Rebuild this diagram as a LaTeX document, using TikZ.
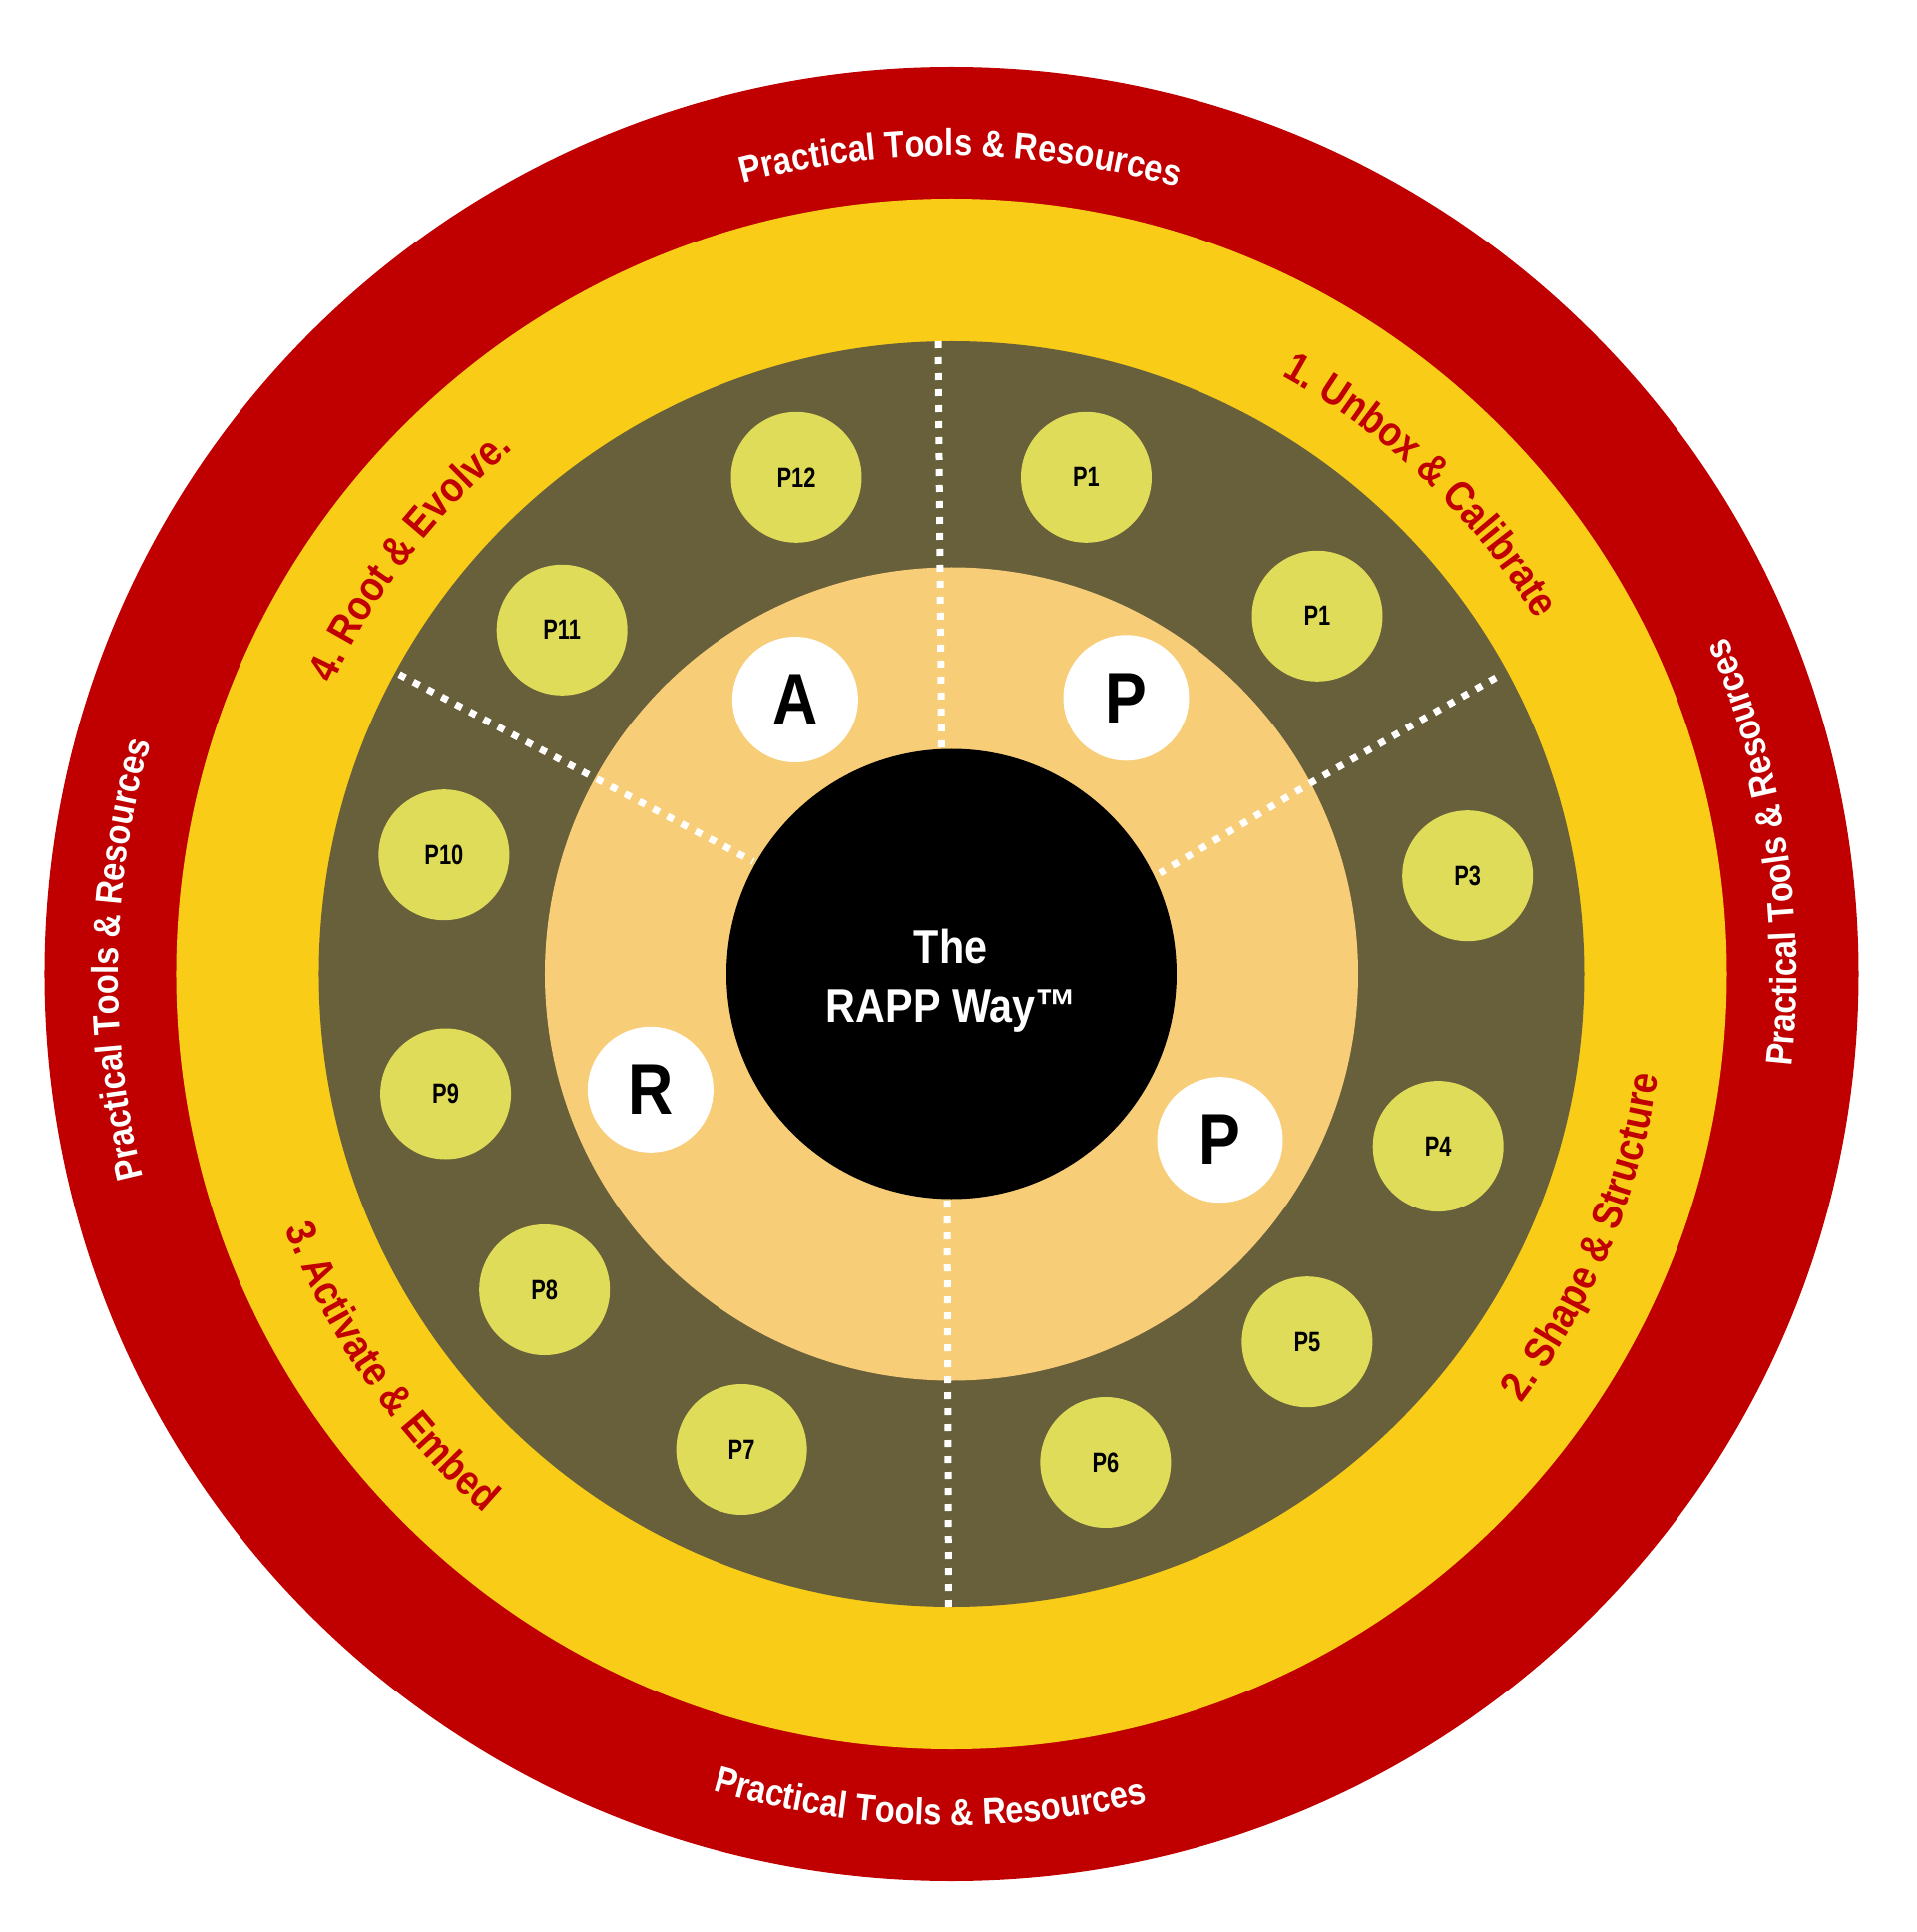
\documentclass[tikz,border=0pt]{standalone}
\usepackage{fontspec}
\setmainfont{Liberation Sans}
\newfontfamily\cfont[FakeStretch=0.87]{Liberation Sans}
\newfontfamily\pfont[FakeStretch=0.78]{Liberation Sans}
\usetikzlibrary{decorations.text}
\definecolor{ringred}{HTML}{C00000}
\definecolor{ringyellow}{HTML}{F9CC18}
\definecolor{ringolive}{HTML}{685F3B}
\definecolor{ringpeach}{HTML}{F8CD78}
\definecolor{pgreen}{HTML}{DFDC5A}
\begin{document}
\begin{tikzpicture}[x=1pt,y=1pt,
  pnode/.style={circle, fill=pgreen, minimum size=131pt, inner sep=0pt, text=black,
    font=\pfont\bfseries\fontsize{28}{30}\selectfont},
  letternode/.style={circle, fill=white, minimum size=126pt, inner sep=0pt, text=black,
    font=\cfont\bfseries\fontsize{72}{74}\selectfont},
  centertext/.style={text=white, inner sep=0pt, font=\cfont\bfseries\fontsize{47.5}{50}\selectfont},
  divider/.style={white, line width=7pt, dash pattern=on 7pt off 9pt},
  ringlabel/.style={decorate, decoration={text along path, text align=center, text color=#1}}]
\useasboundingbox (-953.5,-960) rectangle (966.5,976);
% rings
\fill[ringred] (0,0) circle[radius=909];
\fill[ringyellow] (0,0) circle[radius=777];
\fill[ringolive] (0,0) circle[radius=634];
\fill[ringpeach] (0,0) circle[radius=407.5];
% dividers
\coordinate (tA) at (-13.5,634);
\coordinate (tB) at (-10,226);
\coordinate (rA) at (545.5,297);
\coordinate (rB) at (362.3,192.7);
\coordinate (rC) at (208.7,101);
\coordinate (lA) at (-553.5,300.3);
\coordinate (lB) at (-364.9,200.3);
\coordinate (lC) at (-198.7,112.7);
\coordinate (bA) at (-3,-634);
\coordinate (bB) at (-4.5,-226);
\draw[divider] (tA) -- (tB);
\draw[divider] (rA) -- (rB) -- (rC);
\draw[divider] (lA) -- (lB) -- (lC);
\draw[divider] (bA) -- (bB);
% centre
\fill[black] (0,0) circle[radius=225.5];
\node[centertext, anchor=base] (the) at (-1,11) {The};
\node[centertext, anchor=base] (way) at (0,-48) {RAPP Way™};
% P circles
\node[pnode] (p1a) at (135,497.7) {P1};
\node[pnode] (p1b) at (366.5,358.7) {P1};
\node[pnode] (p3) at (517.2,98.3) {P3};
\node[pnode] (p4) at (487.7,-172.6) {P4};
\node[pnode] (p5) at (356.4,-368.7) {P5};
\node[pnode] (p6) at (154.4,-489.5) {P6};
\node[pnode] (p7) at (-210.4,-476.5) {P7};
\node[pnode] (p8) at (-407.8,-316.5) {P8};
\node[pnode] (p9) at (-506.9,-120) {P9};
\node[pnode] (p10) at (-508.6,119.3) {P10};
\node[pnode] (p11) at (-390.3,344.7) {P11};
\node[pnode] (p12) at (-155.5,497.7) {P12};
% letters
\node[letternode] (la) at (-156.6,275) {A};
\node[letternode] (lp1) at (175,276.7) {P};
\node[letternode] (lp2) at (269,-166.2) {P};
\node[letternode] (lr) at (-301.6,-115.8) {R};
% outer ring texts
\path[ringlabel=white, decoration={text={|\cfont\bfseries\fontsize{37.5}{38}\selectfont|Practical Tools {\&} Resources}}]
  (149.4:820) arc[start angle=149.4, end angle=29.4, radius=820];
\path[ringlabel=white, decoration={text={|\cfont\bfseries\fontsize{37.5}{38}\selectfont|Practical Tools {\&} Resources}}]
  (239:835) arc[start angle=239, end angle=119, radius=835];
\path[ringlabel=white, decoration={text={|\cfont\bfseries\fontsize{37.5}{38}\selectfont|Practical Tools {\&} Resources}}]
  (208.5:853) arc[start angle=208.5, end angle=328.5, radius=853];
\path[ringlabel=white, decoration={text={|\cfont\bfseries\fontsize{37.5}{38}\selectfont|Practical Tools {\&} Resources}}]
  (-51.4:847) arc[start angle=-51.4, end angle=68.6, radius=847];
% stage labels
\path[ringlabel=ringred, decoration={text={|\cfont\bfseries\fontsize{42}{42}\selectfont|1. Unbox {\&} Calibrate}}]
  (106.2:685) arc[start angle=106.2, end angle=-13.8, radius=685];
\path[ringlabel=ringred, decoration={text={|\cfont\bfseries\fontsize{42}{42}\selectfont|4. Root {\&} Evolve.}}]
  (202.4:685) arc[start angle=202.4, end angle=82.4, radius=685];
\path[ringlabel=ringred, decoration={text={|\cfont\bfseries\fontsize{42}{42}\selectfont|2. Shape {\&} Structure}}]
  (-82.6:715) arc[start angle=-82.6, end angle=37.4, radius=715];
\path[ringlabel=ringred, decoration={text={|\cfont\bfseries\fontsize{42}{42}\selectfont|3. Activate {\&} Embed}}]
  (155:715) arc[start angle=155, end angle=275, radius=715];
\end{tikzpicture}
\end{document}
